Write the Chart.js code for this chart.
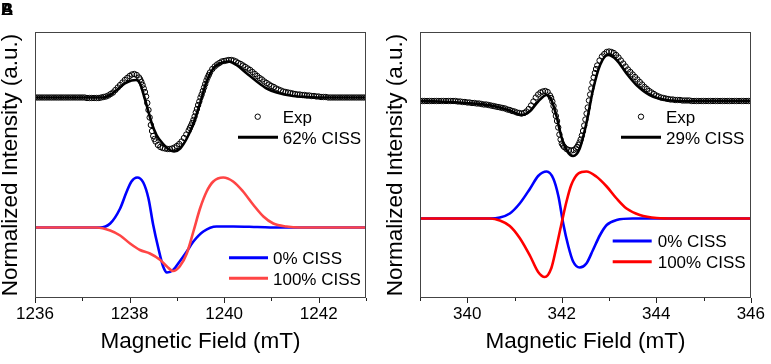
<!DOCTYPE html>
<html><head><meta charset="utf-8">
<script src="https://cdn.jsdelivr.net/npm/chart.js@4"></script>
<style>
html,body{margin:0;padding:0;background:#fff;}
#wrap{position:relative;width:771px;height:364px;overflow:hidden;background:#fff;}
canvas{position:absolute;top:0;}
.lab{position:absolute;left:1px;top:1px;font:bold 17px "Liberation Sans",Arial,sans-serif;color:#000;line-height:17px;}
</style></head><body>
<div id="wrap">
<canvas id="c1" width="385" height="364" style="left:0"></canvas>
<canvas id="c2" width="386" height="364" style="left:385px"></canvas>
<div class="lab">A</div><div class="lab">B</div>
</div>
<script>
// ---------- DATA ----------
const xTitle = 'Magnetic Field (mT)';
const yTitle = 'Normalized Intensity (a.u.)';

// Panel A
const leftRange = [1236, 1243];
const leftTickLabels = [1236, 1238, 1240, 1242];
const leftLegendTop = ['Exp', '62% CISS'];
const leftLegendBottom = ['0% CISS', '100% CISS'];
const leftExp = [
[1236.00,2.60],[1236.05,2.60],[1236.10,2.60],[1236.15,2.60],[1236.20,2.60],[1236.25,2.60],[1236.30,2.60],[1236.35,2.60],
[1236.40,2.60],[1236.45,2.60],[1236.50,2.60],[1236.55,2.60],[1236.60,2.60],[1236.65,2.60],[1236.70,2.60],[1236.75,2.60],
[1236.80,2.60],[1236.85,2.60],[1236.90,2.60],[1236.95,2.60],[1237.00,2.60],[1237.05,2.60],[1237.10,2.59],[1237.15,2.59],
[1237.20,2.59],[1237.25,2.59],[1237.30,2.59],[1237.35,2.59],[1237.40,2.60],[1237.45,2.61],[1237.50,2.62],[1237.55,2.64],
[1237.60,2.67],[1237.65,2.70],[1237.70,2.75],[1237.75,2.80],[1237.80,2.85],[1237.85,2.90],[1237.90,2.95],[1237.95,2.99],
[1238.00,3.03],[1238.05,3.06],[1238.10,3.07],[1238.15,3.05],[1238.20,3.00],[1238.225,2.96],[1238.25,2.91],[1238.275,2.85],
[1238.30,2.78],[1238.325,2.71],[1238.35,2.62],[1238.375,2.49],[1238.40,2.35],[1238.425,2.20],[1238.45,2.05],[1238.475,1.93],
[1238.50,1.83],[1238.525,1.77],[1238.55,1.72],[1238.60,1.65],[1238.65,1.61],[1238.70,1.59],[1238.75,1.58],[1238.80,1.57],
[1238.85,1.57],[1238.90,1.58],[1238.95,1.60],[1239.00,1.63],[1239.05,1.67],[1239.10,1.72],[1239.15,1.79],[1239.20,1.86],
[1239.25,1.94],[1239.275,1.99],[1239.30,2.04],[1239.325,2.09],[1239.35,2.15],[1239.375,2.22],[1239.40,2.30],[1239.425,2.37],
[1239.45,2.45],[1239.475,2.52],[1239.50,2.60],[1239.525,2.66],[1239.55,2.73],[1239.575,2.80],[1239.60,2.87],[1239.625,2.94],
[1239.65,3.00],[1239.675,3.05],[1239.70,3.10],[1239.75,3.17],[1239.80,3.22],[1239.85,3.26],[1239.90,3.29],[1239.95,3.32],
[1240.00,3.33],[1240.05,3.34],[1240.10,3.35],[1240.15,3.35],[1240.20,3.34],[1240.25,3.32],[1240.30,3.29],[1240.35,3.27],
[1240.40,3.24],[1240.45,3.21],[1240.50,3.18],[1240.55,3.15],[1240.60,3.11],[1240.65,3.07],[1240.70,3.03],[1240.75,2.99],
[1240.80,2.96],[1240.85,2.92],[1240.90,2.89],[1240.95,2.86],[1241.00,2.83],[1241.05,2.81],[1241.10,2.78],[1241.15,2.76],
[1241.20,2.74],[1241.25,2.72],[1241.30,2.71],[1241.35,2.70],[1241.40,2.69],[1241.45,2.68],[1241.50,2.67],[1241.55,2.66],
[1241.60,2.66],[1241.65,2.65],[1241.70,2.65],[1241.75,2.64],[1241.80,2.64],[1241.85,2.63],[1241.90,2.63],[1241.95,2.62],
[1242.00,2.62],[1242.05,2.61],[1242.10,2.61],[1242.15,2.61],[1242.20,2.60],[1242.25,2.60],[1242.30,2.60],[1242.35,2.60],
[1242.40,2.60],[1242.45,2.60],[1242.50,2.60],[1242.55,2.60],[1242.60,2.60],[1242.65,2.60],[1242.70,2.60],[1242.75,2.60],
[1242.80,2.60],[1242.85,2.60],[1242.90,2.60],[1242.95,2.60],[1243.00,2.60]
];
const leftFit = [
[1236,2.60],[1237.0,2.60],[1237.44,2.60],[1237.59,2.65],[1237.73,2.75],[1237.90,2.88],[1238.04,2.94],[1238.14,2.95],
[1238.22,2.88],[1238.29,2.68],[1238.38,2.38],[1238.47,2.08],[1238.57,1.85],[1238.71,1.67],[1238.85,1.55],[1238.94,1.52],
[1239.07,1.58],[1239.21,1.78],[1239.35,2.08],[1239.49,2.48],[1239.63,2.92],[1239.77,3.18],[1239.91,3.28],[1240.09,3.32],
[1240.26,3.25],[1240.48,3.08],[1240.69,2.92],[1240.90,2.78],[1241.11,2.70],[1241.46,2.63],[1241.74,2.61],[1242.2,2.60],[1243,2.60]
];
const leftCiss0 = [
[1236,0],[1237.37,0],[1237.59,0.08],[1237.80,0.38],[1237.94,0.72],[1238.04,0.92],[1238.16,1.00],[1238.29,0.90],
[1238.40,0.58],[1238.50,0.05],[1238.61,-0.42],[1238.71,-0.78],[1238.79,-0.90],[1238.92,-0.85],[1239.06,-0.68],
[1239.21,-0.48],[1239.35,-0.28],[1239.56,-0.08],[1239.84,0.02],[1240.19,0.02],[1240.7,0.01],[1241.2,0],[1243,0]
];
const leftCiss100 = [
[1236,0],[1237.30,0],[1237.59,-0.06],[1237.80,-0.16],[1238.01,-0.32],[1238.22,-0.45],[1238.43,-0.52],[1238.65,-0.65],
[1238.79,-0.78],[1238.92,-0.87],[1239.06,-0.78],[1239.21,-0.52],[1239.35,-0.08],[1239.49,0.38],[1239.63,0.72],
[1239.77,0.92],[1239.98,1.00],[1240.19,0.92],[1240.40,0.72],[1240.62,0.45],[1240.83,0.22],[1241.04,0.08],
[1241.32,0.02],[1241.6,0],[1243,0]
];

// Panel B
const rightRange = [339, 346];
const rightTickLabels = [340, 342, 344, 346];
const rightLegendTop = ['Exp', '29% CISS'];
const rightLegendBottom = ['0% CISS', '100% CISS'];
const rightExp = [
[339.00,2.35],[339.05,2.35],[339.10,2.35],[339.15,2.35],[339.20,2.35],[339.25,2.35],[339.30,2.35],[339.35,2.35],
[339.40,2.35],[339.45,2.35],[339.50,2.35],[339.55,2.35],[339.60,2.35],[339.65,2.35],[339.70,2.35],[339.75,2.35],
[339.80,2.34],[339.85,2.34],[339.90,2.33],[339.95,2.33],[340.00,2.32],[340.05,2.32],[340.10,2.31],[340.15,2.31],
[340.20,2.30],[340.25,2.30],[340.30,2.29],[340.35,2.28],[340.40,2.28],[340.45,2.27],[340.50,2.26],[340.55,2.25],
[340.60,2.24],[340.65,2.23],[340.70,2.22],[340.75,2.21],[340.80,2.20],[340.85,2.18],[340.90,2.17],[340.95,2.15],
[341.00,2.14],[341.05,2.12],[341.10,2.11],[341.15,2.10],[341.20,2.11],[341.25,2.14],[341.30,2.19],[341.35,2.26],
[341.40,2.34],[341.45,2.42],[341.50,2.48],[341.55,2.52],[341.60,2.54],[341.65,2.55],[341.70,2.53],[341.75,2.46],
[341.775,2.41],[341.80,2.34],[341.825,2.25],[341.85,2.15],[341.875,2.05],[341.90,1.95],[341.925,1.82],[341.95,1.68],
[341.975,1.58],[342.00,1.50],[342.025,1.46],[342.05,1.43],[342.10,1.39],[342.15,1.37],[342.20,1.36],[342.25,1.37],
[342.30,1.40],[342.325,1.43],[342.35,1.47],[342.375,1.52],[342.40,1.58],[342.425,1.66],[342.45,1.75],[342.475,1.86],
[342.50,1.98],[342.525,2.10],[342.55,2.22],[342.575,2.36],[342.60,2.48],[342.625,2.60],[342.65,2.72],[342.675,2.82],
[342.70,2.91],[342.725,2.99],[342.75,3.06],[342.80,3.16],[342.85,3.24],[342.90,3.29],[342.95,3.33],[343.00,3.34],
[343.05,3.33],[343.10,3.31],[343.15,3.27],[343.20,3.22],[343.25,3.16],[343.30,3.10],[343.35,3.04],[343.40,2.98],
[343.45,2.93],[343.50,2.88],[343.55,2.83],[343.60,2.78],[343.65,2.73],[343.70,2.68],[343.75,2.63],[343.80,2.59],
[343.85,2.55],[343.90,2.52],[343.95,2.49],[344.00,2.46],[344.05,2.44],[344.10,2.42],[344.15,2.41],[344.20,2.40],
[344.25,2.39],[344.30,2.38],[344.35,2.38],[344.40,2.37],[344.45,2.37],[344.50,2.37],[344.55,2.36],[344.60,2.36],
[344.65,2.36],[344.70,2.36],[344.75,2.35],[344.80,2.35],[344.85,2.35],[344.90,2.35],[344.95,2.35],[345.00,2.35],
[345.05,2.35],[345.10,2.35],[345.15,2.35],[345.20,2.35],[345.25,2.35],[345.30,2.35],[345.35,2.35],[345.40,2.35],
[345.45,2.35],[345.50,2.35],[345.55,2.35],[345.60,2.35],[345.65,2.35],[345.70,2.35],[345.75,2.35],[345.80,2.35],
[345.85,2.35],[345.90,2.35],[345.95,2.35],[346.00,2.35]
];
const rightFit = [
[339,2.35],[339.4,2.34],[339.8,2.32],[340.13,2.30],[340.55,2.25],[340.9,2.16],[341.15,2.07],[341.32,2.14],
[341.5,2.34],[341.68,2.47],[341.78,2.37],[341.89,2.04],[341.99,1.64],[342.1,1.37],[342.24,1.25],[342.38,1.40],
[342.52,1.90],[342.66,2.57],[342.81,3.07],[342.98,3.27],[343.16,3.17],[343.37,2.90],[343.58,2.67],[343.86,2.47],
[344.21,2.37],[344.64,2.35],[346,2.35]
];
const rightCiss0 = [
[339,0],[340.48,0],[340.69,0.02],[340.90,0.10],[341.11,0.30],[341.33,0.60],[341.50,0.85],[341.68,0.94],
[341.82,0.80],[341.93,0.44],[342.03,-0.10],[342.14,-0.56],[342.24,-0.86],[342.38,-0.98],[342.52,-0.90],
[342.66,-0.63],[342.81,-0.33],[342.95,-0.13],[343.16,-0.03],[343.5,0],[346,0]
];
const rightCiss100 = [
[339,0],[340.48,0],[340.69,-0.04],[340.90,-0.15],[341.11,-0.39],[341.33,-0.75],[341.50,-1.07],[341.64,-1.17],
[341.78,-0.99],[341.88,-0.60],[341.99,-0.12],[342.10,0.34],[342.20,0.67],[342.35,0.90],[342.52,0.94],
[342.73,0.84],[342.95,0.64],[343.16,0.40],[343.37,0.20],[343.65,0.07],[344.01,0.01],[344.4,0],[346,0]
];

// ---------- RENDERING ----------
const FONT = '"Liberation Sans", Arial, Helvetica, sans-serif';
const toXY = arr => arr.map(p => ({x: p[0], y: p[1]}));

function panelPlugin(legend) {
  return {
    id: 'panelDecor',
    afterDraw(chart) {
      const ctx = chart.ctx, a = chart.chartArea, xs = chart.scales.x;
      ctx.save();
      // tick marks from the axis ticks
      ctx.strokeStyle = '#222';
      ctx.lineWidth = 1;
      xs.ticks.forEach(t => {
        const px = Math.round(xs.getPixelForValue(t.value)) + 0.5;
        const major = legend.ticks.includes(t.value);
        ctx.beginPath();
        ctx.moveTo(px, a.bottom);
        ctx.lineTo(px, a.bottom + (major ? 5 : 3));
        ctx.stroke();
      });
      // frame
      ctx.strokeStyle = '#444';
      ctx.strokeRect(Math.round(a.left) + 0.5, Math.round(a.top) + 0.5, Math.round(a.right - a.left) - 1, Math.round(a.bottom - a.top) - 1);
      // legends
      ctx.font = '17px ' + FONT;
      ctx.fillStyle = '#000';
      ctx.textAlign = 'left';
      ctx.textBaseline = 'alphabetic';
      legend.items.forEach(it => {
        if (it.kind === 'marker') {
          ctx.beginPath();
          ctx.arc(it.mx, it.y, 2.7, 0, Math.PI * 2);
          ctx.strokeStyle = '#000';
          ctx.lineWidth = 1;
          ctx.stroke();
        } else {
          ctx.beginPath();
          ctx.moveTo(it.x0, it.y);
          ctx.lineTo(it.x1, it.y);
          ctx.strokeStyle = it.color;
          ctx.lineWidth = 3;
          ctx.stroke();
        }
        ctx.fillStyle = '#000';
        ctx.fillText(it.text, it.tx, it.y + 6.3);
      });
      ctx.restore();
    }
  };
}

function makeChart(id, cfg) {
  const canvas = document.getElementById(id);
  const W = canvas.width;
  return new Chart(canvas, {
    type: 'line',
    data: {
      datasets: [
        {data: toXY(cfg.fit), borderColor: '#000', borderWidth: 2.6, pointRadius: 0, cubicInterpolationMode: 'monotone', order: 0},
        {data: toXY(cfg.exp), showLine: false, pointRadius: 2.7, pointStyle: 'circle', pointBorderColor: '#000', pointBorderWidth: 1, pointBackgroundColor: 'rgba(0,0,0,0)', borderColor: '#000', order: 1},
        {data: toXY(cfg.c100), borderColor: cfg.red, borderWidth: 2.6, pointRadius: 0, cubicInterpolationMode: 'monotone', order: 2},
        {data: toXY(cfg.c0), borderColor: '#0000ff', borderWidth: 2.6, pointRadius: 0, cubicInterpolationMode: 'monotone', order: 3}
      ]
    },
    options: {
      responsive: false,
      animation: false,
      devicePixelRatio: 1,
      layout: {padding: {left: 0, top: 32, right: W - 366, bottom: 0}},
      plugins: {legend: {display: false}, tooltip: {enabled: false}},
      scales: {
        x: {
          type: 'linear', position: 'bottom', min: cfg.range[0], max: cfg.range[1],
          grid: {display: false, drawTicks: false},
          border: {display: false},
          ticks: {
            stepSize: 1, autoSkip: false, maxRotation: 0, padding: 6,
            color: '#000', font: {family: FONT, size: 17},
            callback: v => cfg.ticks.includes(v) ? String(v) : ''
          },
          title: {display: true, text: xTitle, color: '#000', font: {family: FONT, size: 22.5, lineHeight: 1}, padding: {top: 0, bottom: 11}},
          afterFit: s => { s.height = 66; }
        },
        y: {
          type: 'linear', min: cfg.yr[0], max: cfg.yr[1],
          grid: {display: false, drawTicks: false},
          border: {display: false},
          ticks: {display: false},
          title: {display: true, text: yTitle, color: '#000', font: {family: FONT, size: 22.5, lineHeight: 1}, padding: {top: 0, bottom: 0}},
          afterFit: s => { s.width = 35; }
        }
      }
    },
    plugins: [panelPlugin({ticks: cfg.ticks, items: cfg.legend})]
  });
}

makeChart('c1', {
  range: leftRange, ticks: leftTickLabels, yr: [-1.41, 3.91],
  exp: leftExp, fit: leftFit, c0: leftCiss0, c100: leftCiss100, red: '#ff4545',
  legend: [
    {kind: 'marker', mx: 257.7, y: 116.7, tx: 282.7, text: leftLegendTop[0]},
    {kind: 'line', x0: 238, x1: 278, y: 137.3, color: '#000', tx: 282.7, text: leftLegendTop[1]},
    {kind: 'line', x0: 229, x1: 268, y: 257.7, color: '#0000ff', tx: 273, text: leftLegendBottom[0]},
    {kind: 'line', x0: 229, x1: 268, y: 278.3, color: '#ff4545', tx: 273, text: leftLegendBottom[1]}
  ]
});
makeChart('c2', {
  range: rightRange, ticks: rightTickLabels, yr: [-1.59, 3.73],
  exp: rightExp, fit: rightFit, c0: rightCiss0, c100: rightCiss100, red: '#ff0000',
  legend: [
    {kind: 'marker', mx: 256, y: 116.7, tx: 281, text: rightLegendTop[0]},
    {kind: 'line', x0: 236, x1: 276, y: 137.3, color: '#000', tx: 281, text: rightLegendTop[1]},
    {kind: 'line', x0: 227.7, x1: 266.7, y: 241, color: '#0000ff', tx: 272.7, text: rightLegendBottom[0]},
    {kind: 'line', x0: 227.7, x1: 266.7, y: 261.7, color: '#ff0000', tx: 272.7, text: rightLegendBottom[1]}
  ]
});
</script>
</body></html>
